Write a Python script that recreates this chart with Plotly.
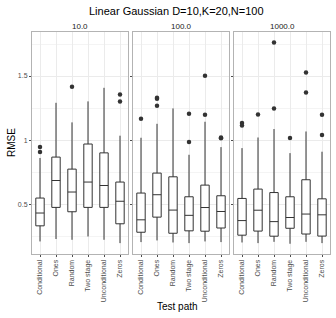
import plotly.graph_objects as go
from plotly.subplots import make_subplots

categories = ["Conditional", "Ones", "Random", "Two stage", "Unconditional", "Zeros"]
facets = ["10.0", "100.0", "1000.0"]

# per-facet box statistics (RMSE)
q1_10 = [0.330, 0.474, 0.440, 0.474, 0.474, 0.346]
med_10 = [0.430, 0.684, 0.594, 0.672, 0.645, 0.522]
q3_10 = [0.547, 0.867, 0.773, 0.969, 0.900, 0.672]
lo_10 = [0.208, 0.227, 0.221, 0.247, 0.221, 0.195]
hi_10 = [0.860, 1.291, 1.138, 1.302, 1.408, 1.034]
out_x_10 = ["Conditional", "Conditional", "Random", "Zeros", "Zeros"]
out_y_10 = [0.945, 0.906, 1.416, 1.356, 1.302]

q1_100 = [0.280, 0.398, 0.272, 0.291, 0.288, 0.313]
med_100 = [0.377, 0.573, 0.453, 0.412, 0.473, 0.442]
q3_100 = [0.586, 0.742, 0.713, 0.557, 0.648, 0.565]
lo_100 = [0.203, 0.216, 0.200, 0.195, 0.208, 0.203]
hi_100 = [1.018, 1.127, 1.247, 0.885, 1.143, 0.945]
out_x_100 = ["Conditional", "Ones", "Ones", "Ones", "Two stage", "Two stage",
             "Unconditional", "Unconditional", "Zeros", "Zeros"]
out_y_100 = [1.166, 1.330, 1.322, 1.268, 1.205, 0.984, 1.502, 1.198, 1.020, 1.014]

q1_1000 = [0.257, 0.289, 0.249, 0.311, 0.266, 0.250]
med_1000 = [0.371, 0.452, 0.363, 0.395, 0.422, 0.416]
q3_1000 = [0.544, 0.617, 0.590, 0.557, 0.690, 0.541]
lo_1000 = [0.200, 0.195, 0.205, 0.190, 0.205, 0.195]
hi_1000 = [0.937, 1.020, 1.086, 0.898, 1.067, 0.909]
out_x_1000 = ["Conditional", "Conditional", "Ones", "Random", "Random", "Two stage",
              "Unconditional", "Unconditional", "Zeros", "Zeros"]
out_y_1000 = [1.133, 1.114, 1.200, 1.762, 1.247, 1.016, 1.528, 1.372, 1.198, 1.039]

panels = [
    (q1_10, med_10, q3_10, lo_10, hi_10, out_x_10, out_y_10),
    (q1_100, med_100, q3_100, lo_100, hi_100, out_x_100, out_y_100),
    (q1_1000, med_1000, q3_1000, lo_1000, hi_1000, out_x_1000, out_y_1000),
]

W, H = 336, 318
L, R, T = 32, 6, 32
pw = W - L - R  # 298
ph = 222
B = H - T - ph

fig = make_subplots(rows=1, cols=3, shared_yaxes=False)

doms = [(0, 96 / pw), (101 / pw, 197 / pw), (202 / pw, 1.0)]

line_col = "#333333"
for i, (q1, med, q3, lo, hi, ox, oy) in enumerate(panels):
    c = i + 1
    fig.add_trace(go.Box(
        x=categories, q1=q1, median=med, q3=q3, lowerfence=lo, upperfence=hi,
        fillcolor="white", line=dict(color=line_col, width=1),
        whiskerwidth=0, boxpoints=False, showlegend=False, hoverinfo="skip",
    ), row=1, col=c)
    fig.add_trace(go.Scatter(
        x=ox, y=oy, mode="markers",
        marker=dict(color=line_col, size=4.5, line=dict(width=0)),
        showlegend=False, hoverinfo="skip",
    ), row=1, col=c)

grid = "#ebebeb"
border = "#b3b3b3"
for i in range(3):
    xa = "xaxis" if i == 0 else f"xaxis{i+1}"
    ya = "yaxis" if i == 0 else f"yaxis{i+1}"
    fig.layout[xa].update(
        domain=list(doms[i]), type="category", categoryorder="array",
        categoryarray=categories, range=[-0.5, 5.5], automargin=False,
        showgrid=True, gridcolor=grid, gridwidth=1,
        showline=True, mirror=True, linecolor=border, linewidth=1,
        ticks="outside", ticklen=2, tickcolor="#4d4d4d", tickwidth=1,
        tickangle=-90, tickfont=dict(family="Liberation Sans, Arial", size=7, color="#4d4d4d"),
        zeroline=False,
    )
    fig.layout[ya].update(
        range=[0.11, 1.844], showgrid=True, gridcolor=grid, gridwidth=1, automargin=False,
        tickvals=[0.5, 1.0, 1.5],
        ticktext=["0.5", "1", "1.5"] if i == 0 else ["", "", ""],
        showticklabels=(i == 0),
        showline=True, mirror=True, linecolor=border, linewidth=1,
        ticks="outside", ticklen=2, tickcolor="#4d4d4d", tickwidth=1,
        tickfont=dict(family="Liberation Sans, Arial", size=7, color="#4d4d4d"),
        minor=dict(tickvals=[0.25, 0.75, 1.25, 1.75], showgrid=True,
                   gridcolor="#f4f4f4", gridwidth=0.6, ticks=""),
        zeroline=False,
    )

annotations = []
for i, f in enumerate(facets):
    cx = (doms[i][0] + doms[i][1]) / 2
    annotations.append(dict(text=f, x=cx, y=1 + 5.5 / ph, xref="paper", yref="paper",
                            xanchor="center", yanchor="middle", showarrow=False,
                            font=dict(family="Liberation Sans, Arial", size=8, color="#1a1a1a")))
annotations.append(dict(text="Linear Gaussian D=10,K=20,N=100", x=(176.5 - 32) / pw,
                        y=1 + 21 / ph, xref="paper", yref="paper",
                        xanchor="center", yanchor="middle", showarrow=False,
                        font=dict(family="Liberation Sans, Arial", size=11, color="black")))
annotations.append(dict(text="RMSE", x=(11 - 32) / pw, y=0.5, xref="paper", yref="paper",
                        xanchor="center", yanchor="middle", textangle=-90, showarrow=False,
                        font=dict(family="Liberation Sans, Arial", size=10, color="black")))
annotations.append(dict(text="Test path", x=(177 - 32) / pw, y=-(306.5 - 254) / ph,
                        xref="paper", yref="paper",
                        xanchor="center", yanchor="middle", showarrow=False,
                        font=dict(family="Liberation Sans, Arial", size=10, color="black")))

fig.update_layout(
    width=W, height=H, margin=dict(l=L, r=R, t=T, b=B),
    paper_bgcolor="white", plot_bgcolor="white",
    boxgap=0.25, annotations=annotations, showlegend=False,
)

fig.write_html(
    "out.html",
    config={"displayModeBar": False},
    post_script="document.body.style.margin='0';document.body.style.overflow='hidden';",
)
